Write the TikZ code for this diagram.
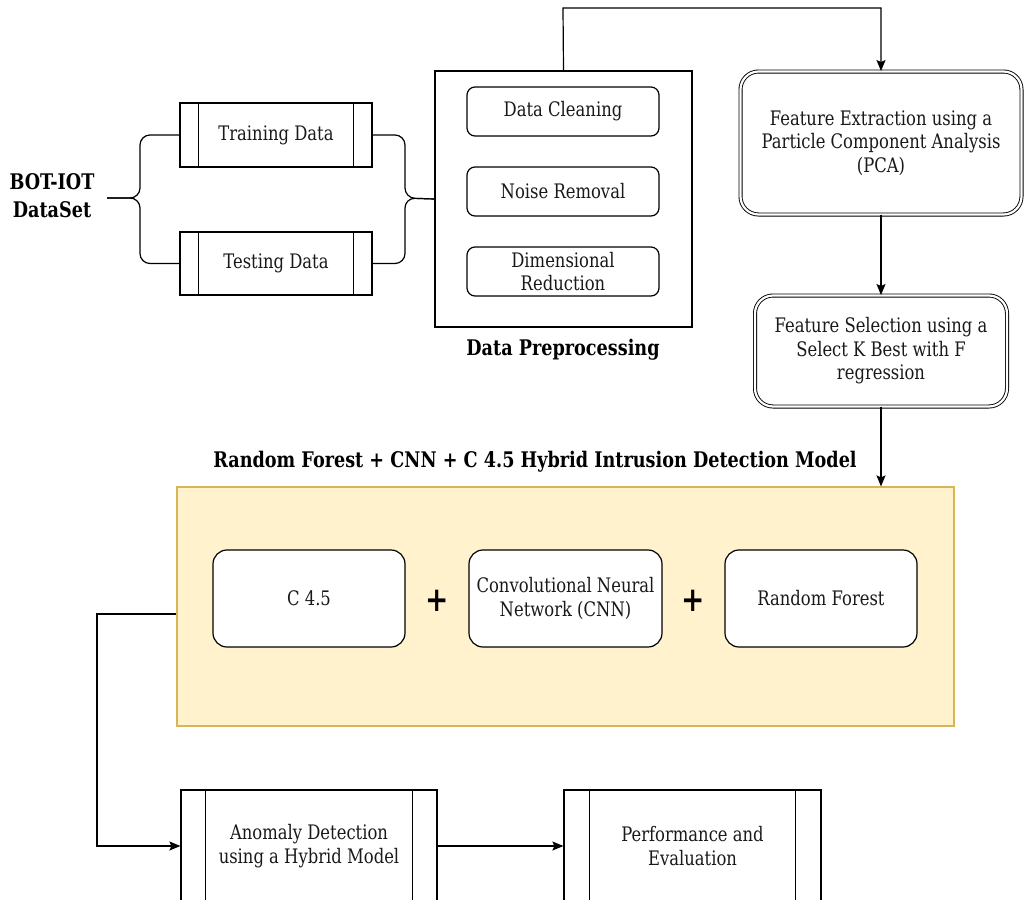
\documentclass[tikz,border=0pt]{standalone}
\usepackage{fontspec}
\setmainfont{DejaVu Serif}[FakeStretch=0.82]
\usetikzlibrary{arrows.meta,calc}
\definecolor{modelfill}{HTML}{FFF2CC}
\definecolor{modeldraw}{HTML}{D6B656}
\begin{document}
\begin{tikzpicture}[x=1pt,y=-1pt,
  every node/.style={font=\fontsize{20}{23.5}\selectfont, text=black!90},
  lw/.style={line width=1.2pt},
  databox/.style={lw, draw, rectangle, inner sep=0pt, align=center},
  roundbox/.style={lw, draw, rounded corners=8pt, inner sep=0pt, align=center, fill=white},
  dblbox/.style={draw, double, double distance=2.2pt, line width=0.9pt, rounded corners=18pt, inner sep=0pt, align=center, fill=white},
  algbox/.style={lw, draw, rounded corners=14pt, inner sep=0pt, align=center, fill=white},
  boldlab/.style={font=\fontsize{21.5}{28}\selectfont\bfseries, text=black, align=center},
  plus/.style={font=\fontsize{34}{34}\selectfont\bfseries, text=black},
  arr/.style={lw, -{Stealth[length=11pt,width=9pt,inset=2pt]}},
  conn/.style={lw, rounded corners=10pt}
]
\useasboundingbox (0,0) rectangle (1026,900);
\clip (0,0) rectangle (1026,900);

% dataset
\node[boldlab] (dataset) at (52,196) {BOT-IOT\\DataSet};
\coordinate (dsend) at (107,198);
\coordinate (ltip) at (140,198);
\coordinate (rtip) at (405,198);

% training / testing
\node[databox, minimum width=192pt, minimum height=64pt] (train) at (276,135) {Training Data};
\node[databox, minimum width=192pt, minimum height=63pt] (test) at (276,263.5) {Testing Data};
\foreach \n in {train,test}{
  \draw[lw] ($(\n.north west)+(19,0)$) -- ($(\n.south west)+(19,0)$);
  \draw[lw] ($(\n.north east)+(-19,0)$) -- ($(\n.south east)+(-19,0)$);
}

% preprocessing
\node[databox, minimum width=257pt, minimum height=256pt] (prep) at (563.5,199) {};
\node[roundbox, minimum width=192pt, minimum height=49pt] (clean) at (563,111.5) {Data Cleaning};
\node[roundbox, minimum width=192pt, minimum height=49pt] (noise) at (563,191.5) {Noise Removal};
\node[roundbox, minimum width=192pt, minimum height=49pt] (dimred) at (563,271.5) {Dimensional\\Reduction};
\node[boldlab] (preplab) at (563,350) {Data Preprocessing};

% braces
\draw[conn] (train.west) -| (ltip) -- (dsend);
\draw[conn] (test.west) -| (ltip) -- (dsend);
\draw[conn] (train.east) -| (rtip) -- (prep.west);
\draw[conn] (test.east) -| (rtip) -- (prep.west);

% feature extraction / selection
\node[dblbox, minimum width=281pt, minimum height=143pt] (fe) at (881,143) {Feature Extraction using a\\Particle Component Analysis\\(PCA)};
\node[dblbox, minimum width=252pt, minimum height=111pt] (fs) at (881,351) {Feature Selection using a\\Select K Best with F\\regression};
\coordinate (topturn) at (563,8);
\draw[arr] (prep.north) -- (topturn) -| (fe.north);
\draw[arr] (fe.south) -- (fs.north);

% model
\node[boldlab] (title) at (535,462) {Random Forest + CNN + C 4.5 Hybrid Intrusion Detection Model};
\node[draw=modeldraw, fill=modelfill, line width=1.2pt, minimum width=777pt, minimum height=239pt, inner sep=0pt] (model) at (565.5,606.5) {};
\draw[arr] (fs.south) -- (fs.south |- model.north);
\node[algbox, minimum width=192pt, minimum height=97pt] (c45) at (309,598.5) {C 4.5};
\node[algbox, minimum width=193pt, minimum height=97pt] (cnn) at (565.5,598.5) {Convolutional Neural\\Network (CNN)};
\node[algbox, minimum width=192pt, minimum height=97pt] (rf) at (821,598.5) {Random Forest};
\node[plus] (p1) at (437,601) {+};
\node[plus] (p2) at (693,601) {+};

% bottom
\node[databox, minimum width=256pt, minimum height=112pt] (anom) at (309,846) {Anomaly Detection\\using a Hybrid Model};
\node[databox, minimum width=257pt, minimum height=112pt] (perf) at (692.5,846) {Performance and\\Evaluation};
\draw[lw] ($(anom.north west)+(25,0)$) -- ($(anom.south west)+(25,0)$);
\draw[lw] ($(anom.north east)+(-25,0)$) -- ($(anom.south east)+(-25,0)$);
\draw[lw] ($(perf.north west)+(26,0)$) -- ($(perf.south west)+(26,0)$);
\draw[lw] ($(perf.north east)+(-26,0)$) -- ($(perf.south east)+(-26,0)$);

\coordinate (mout) at ($(model.west)+(0,7.5)$);
\coordinate (lturn) at (97,614);
\draw[arr] (mout) -- (lturn) |- (anom.west);
\draw[arr] (anom.east) -- (perf.west);
\end{tikzpicture}
\end{document}
